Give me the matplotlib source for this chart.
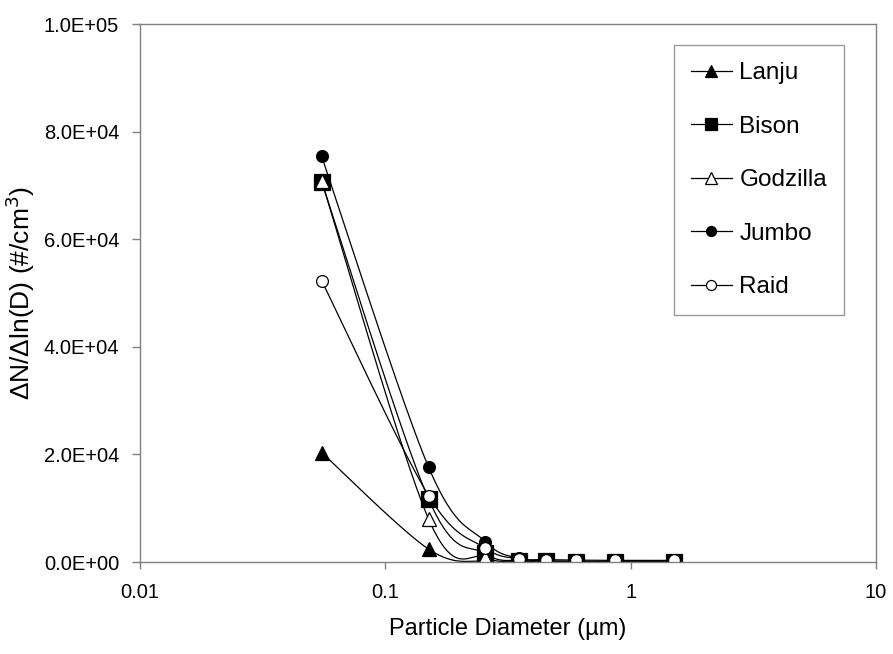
import matplotlib.pyplot as plt
import numpy as np
from matplotlib.ticker import FuncFormatter, FixedLocator

plt.rcParams['font.family'] = ['Liberation Sans', 'DejaVu Sans']

diam = [0.055, 0.15, 0.255, 0.35, 0.45, 0.6, 0.86, 1.5]
lanju = [20350, 2400, 100, 30, 20, 10, 5, 5]
bison = [70700, 11700, 1600, 250, 120, 80, 50, 30]
godzilla = [70800, 8000, 900, 200, 100, 60, 40, 20]
jumbo = [75400, 17650, 3800, 700, 250, 120, 60, 30]
raid = [52300, 12350, 2600, 600, 450, 350, 300, 300]

names = ['Lanju', 'Bison', 'Godzilla', 'Jumbo', 'Raid']
series = [lanju, bison, godzilla, jumbo, raid]
markers = ['^', 's', '^', 'o', 'o']
faces = ['black', 'black', 'white', 'black', 'white']
msizes = [10, 11, 10, 8.5, 8.5]

fig = plt.figure(figsize=(8.93, 6.54), dpi=100)
ax = fig.add_axes([140/893, 1-562/654, 736/893, 538/654])


def smooth(xs, ys, n=40):
    # excel-like smoothed line, worked out in screen-ish space
    px = (np.log10(xs) + 2) * 245.3
    py = np.array(ys) / 1e5 * 538
    pts = np.column_stack([px, py])
    ext = np.vstack([pts[0], pts, pts[-1]])
    out = []
    t = np.linspace(0, 1, n)[:, None]
    for i in range(len(pts) - 1):
        p0, p1, p2, p3 = ext[i], ext[i+1], ext[i+2], ext[i+3]
        c1 = p1 + (p2 - p0) / 6
        c2 = p2 - (p3 - p1) / 6
        seg = ((1-t)**3)*p1 + 3*((1-t)**2)*t*c1 + 3*(1-t)*(t**2)*c2 + (t**3)*p2
        out.append(seg)
    out = np.vstack(out)
    return 10**(out[:, 0]/245.3 - 2), out[:, 1]/538*1e5


for name, vals, m, fc, ms in zip(names, series, markers, faces, msizes):
    sx, sy = smooth(diam, vals)
    ax.plot(sx, sy, color='black', lw=0.9)
    ax.plot(diam, vals, linestyle='none', marker=m, mfc=fc, mec='black',
            ms=ms, mew=0.9)
    ax.plot([], [], color='black', lw=0.9, marker=m, mfc=fc, mec='black',
            ms=ms*0.85, mew=0.9, label=name)

ax.set_xscale('log')
ax.set_xlim(0.01, 10)
ax.set_ylim(0, 1e5)
ax.xaxis.set_major_locator(FixedLocator([0.01, 0.1, 1, 10]))
ax.xaxis.set_minor_locator(FixedLocator([]))
ax.xaxis.set_major_formatter(FuncFormatter(lambda v, p: '%g' % v))
ax.set_yticks(np.arange(0, 100001, 20000))
ax.yaxis.set_major_formatter(FuncFormatter(lambda v, p: '%.1E' % v))

for s in ax.spines.values():
    s.set_color('#808080')
    s.set_linewidth(1)
ax.tick_params(direction='out', width=1, color='#808080', labelsize=14.5)
ax.tick_params(axis='y', length=6, pad=9)
ax.tick_params(axis='x', length=5, pad=10)

ax.set_xlabel('Particle Diameter (µm)', fontsize=17)
ax.xaxis.set_label_coords(0.5, -0.105)
ax.set_ylabel('ΔN/Δln(D) (#/cm$^3$)', fontsize=19)
ax.yaxis.set_label_coords(-0.14, 0.5)

leg = ax.legend(loc='upper right', bbox_to_anchor=(844/893, 1-45/654),
                bbox_transform=fig.transFigure, fancybox=False,
                edgecolor='#808080', fontsize=17.5, labelspacing=1.3,
                handlelength=1.7, handletextpad=0.3, borderpad=0.7,
                borderaxespad=0)
leg.get_frame().set_linewidth(1)

fig.savefig('out.png', dpi=100)
